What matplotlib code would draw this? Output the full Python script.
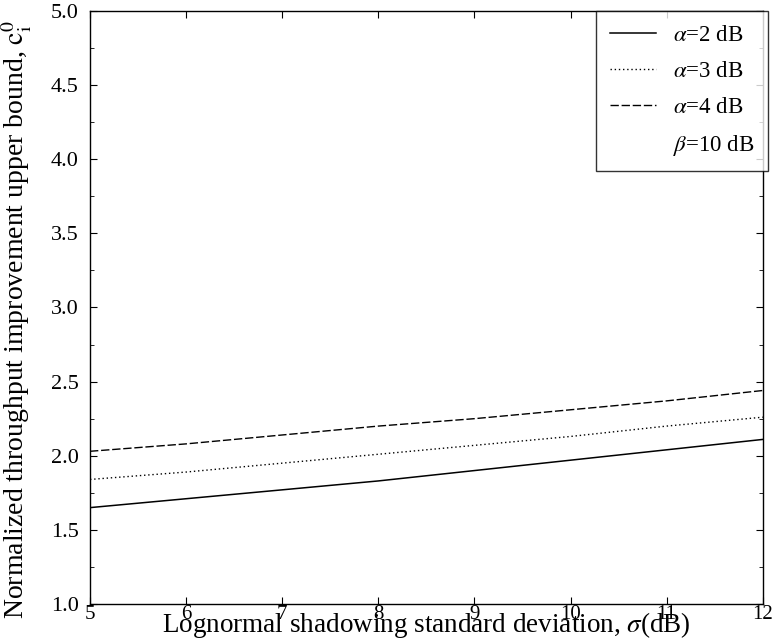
import matplotlib
matplotlib.use("Agg")
import matplotlib.pyplot as plt
from matplotlib.lines import Line2D
from matplotlib.ticker import MultipleLocator, FormatStrFormatter

plt.rcParams['font.family'] = ['Liberation Serif', 'DejaVu Serif']
plt.rcParams['mathtext.fontset'] = 'stix'

# data
sigma = [5, 6, 7, 8, 9, 10, 11, 12]
alpha2 = [1.65, 1.71, 1.77, 1.83, 1.90, 1.97, 2.04, 2.11]
alpha3 = [1.84, 1.89, 1.95, 2.01, 2.07, 2.13, 2.20, 2.26]
alpha4 = [2.03, 2.08, 2.14, 2.20, 2.25, 2.31, 2.37, 2.44]

fig = plt.figure(figsize=(7.72, 6.39), dpi=100)
ax = fig.add_axes([0.1166, 0.0548, 0.8714, 0.928])

ax.plot(sigma, alpha2, color='black', linestyle='-', linewidth=1.1, label=r'$\alpha$=2 dB')
ax.plot(sigma, alpha3, color='black', linestyle=(0, (1, 2)), linewidth=1.0, label=r'$\alpha$=3 dB')
ax.plot(sigma, alpha4, color='black', linestyle=(0, (6, 2)), linewidth=1.0, label=r'$\alpha$=4 dB')

ax.set_xlim(5, 12)
ax.set_ylim(1.0, 5.0)
ax.xaxis.set_major_locator(MultipleLocator(1))
ax.yaxis.set_major_locator(MultipleLocator(0.5))
ax.yaxis.set_minor_locator(MultipleLocator(0.25))
ax.yaxis.set_major_formatter(FormatStrFormatter('%.1f'))
ax.tick_params(direction='in', which='both', top=True, right=True)
ax.tick_params(axis='y', which='major', length=5, pad=8, labelsize=16)
ax.tick_params(axis='x', which='major', length=5, pad=1, labelsize=15)
ax.tick_params(which='minor', length=3)
for s in ax.spines.values():
    s.set_linewidth(1.0)

ax.set_xlabel(r'Lognormal shadowing standard deviation, $\sigma$(dB)', fontsize=19.5, labelpad=-10.5)
ax.set_ylabel(r'Normalized throughput improvement upper bound, $\mathrm{c}_\mathrm{i}^0$',
              fontsize=20)
ax.yaxis.set_label_coords(-0.084, 0.48)

handles, labels = ax.get_legend_handles_labels()
handles.append(Line2D([], [], linestyle='none'))
labels.append(r'$\beta$=10 dB')
leg = ax.legend(handles, labels, loc='upper right', bbox_to_anchor=(1.008, 1.0),
                fontsize=16.5, frameon=True, fancybox=False, edgecolor='black',
                handlelength=2.0, handletextpad=0.75, labelspacing=0.65,
                borderpad=0.6, borderaxespad=0.0)
leg.get_frame().set_linewidth(1.0)

fig.savefig('out.png', dpi=100)
